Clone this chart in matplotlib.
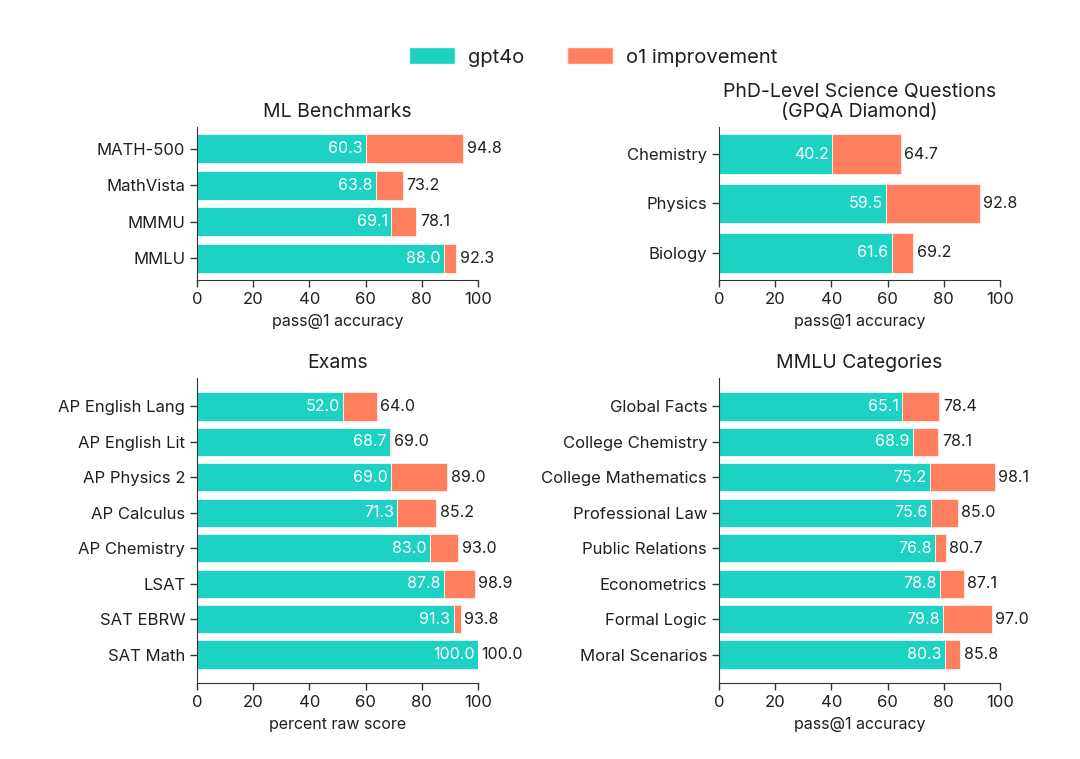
import matplotlib
matplotlib.use("Agg")
import matplotlib.pyplot as plt
from matplotlib.patches import Patch

plt.rcParams['font.family'] = ['Inter', 'DejaVu Sans']
plt.rcParams['text.color'] = '#1f1f1f'
plt.rcParams['axes.labelcolor'] = '#1f1f1f'
plt.rcParams['xtick.color'] = '#1f1f1f'
plt.rcParams['ytick.color'] = '#1f1f1f'

TEAL = '#1dd1c3'
ORANGE = '#ff7f5f'

# data
ml_labels = ['MATH-500', 'MathVista', 'MMMU', 'MMLU']
ml_gpt4o = [60.3, 63.8, 69.1, 88.0]
ml_o1 = [94.8, 73.2, 78.1, 92.3]

phd_labels = ['Chemistry', 'Physics', 'Biology']
phd_gpt4o = [40.2, 59.5, 61.6]
phd_o1 = [64.7, 92.8, 69.2]

exam_labels = ['AP English Lang', 'AP English Lit', 'AP Physics 2', 'AP Calculus',
               'AP Chemistry', 'LSAT', 'SAT EBRW', 'SAT Math']
exam_gpt4o = [52.0, 68.7, 69.0, 71.3, 83.0, 87.8, 91.3, 100.0]
exam_o1 = [64.0, 69.0, 89.0, 85.2, 93.0, 98.9, 93.8, 100.0]

mmlu_labels = ['Global Facts', 'College Chemistry', 'College Mathematics',
               'Professional Law', 'Public Relations', 'Econometrics',
               'Formal Logic', 'Moral Scenarios']
mmlu_gpt4o = [65.1, 68.9, 75.2, 75.6, 76.8, 78.8, 79.8, 80.3]
mmlu_o1 = [78.4, 78.1, 98.1, 85.0, 80.7, 87.1, 97.0, 85.8]

fig = plt.figure(figsize=(10.8, 7.59), dpi=100)

W, H = 1080.0, 759.0
panels = [
    # (left px, top px, bottom px, labels, base, total, title, xlabel, margin)
    (197, 127, 280, ml_labels, ml_gpt4o, ml_o1, 'ML Benchmarks', 'pass@1 accuracy', 0.6),
    (719, 127, 280, phd_labels, phd_gpt4o, phd_o1,
     'PhD-Level Science Questions\n(GPQA Diamond)', 'pass@1 accuracy', 0.55),
    (197, 378, 683, exam_labels, exam_gpt4o, exam_o1, 'Exams', 'percent raw score', 0.8),
    (719, 378, 683, mmlu_labels, mmlu_gpt4o, mmlu_o1, 'MMLU Categories', 'pass@1 accuracy', 0.8),
]

for left, top, bottom, labels, base, total, title, xlabel, m in panels:
    ax = fig.add_axes([left / W, 1 - bottom / H, 281 / W, (bottom - top) / H])
    y = list(range(len(labels)))
    imp = [t - b for b, t in zip(base, total)]
    ax.barh(y, base, height=0.8, color=TEAL, edgecolor='#e8fbf9', linewidth=0.6)
    ax.barh(y, imp, left=base, height=0.8, color=ORANGE, edgecolor='#fff0ea', linewidth=0.6)
    for yi, b, t in zip(y, base, total):
        ax.annotate(f'{b:.1f}', (b, yi), xytext=(-2.5, 0), textcoords='offset points',
                    ha='right', va='center', color='white', fontsize=11.5)
        ax.annotate(f'{t:.1f}', (t, yi), xytext=(2.5, 0), textcoords='offset points',
                    ha='left', va='center', color='#1f1f1f', fontsize=11.5)
    ax.set_yticks(y)
    ax.set_yticklabels(labels)
    ax.set_ylim(len(labels) - 1 + m, -m)
    ax.set_xlim(0, 100)
    ax.set_xticks([0, 20, 40, 60, 80, 100])
    ax.spines['top'].set_visible(False)
    ax.spines['right'].set_visible(False)
    ax.spines['left'].set_color('#333333')
    ax.spines['bottom'].set_color('#333333')
    ax.tick_params(axis='both', labelsize=12, length=5, width=1, color='#333333')
    ax.set_title(title, fontsize=14, pad=7, linespacing=1.15)
    ax.set_xlabel(xlabel, fontsize=11.5, labelpad=5)

handles = [Patch(facecolor=TEAL, edgecolor='#e8fbf9', label='gpt4o'),
           Patch(facecolor=ORANGE, edgecolor='#fff0ea', label='o1 improvement')]
fig.legend(handles=handles, loc='center', bbox_to_anchor=(593 / W, 1 - 57 / H),
           ncol=2, frameon=False, fontsize=14.5, handlelength=2.3, handleheight=0.9,
           columnspacing=2.1, handletextpad=0.65)

fig.savefig('out.png', dpi=100, facecolor='white')
